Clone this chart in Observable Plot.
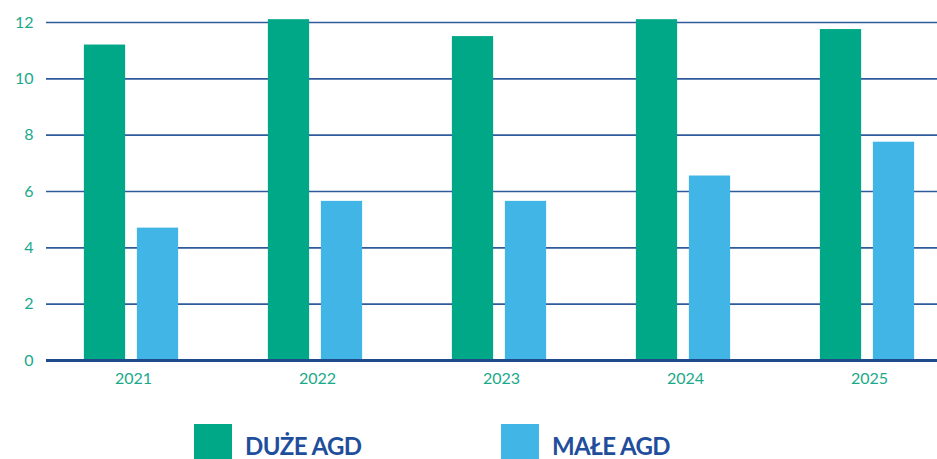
<!DOCTYPE html>
<html>
<head>
<meta charset="utf-8">
<script src="https://cdn.jsdelivr.net/npm/d3@7"></script>
<script src="https://cdn.jsdelivr.net/npm/@observablehq/plot@0.6"></script>
<style>
  html, body { margin: 0; padding: 0; background: #fff; overflow: hidden; }
  #wrap { position: relative; width: 937px; height: 459px; font-family: Lato, sans-serif; }
  .sw { position: absolute; top: 424px; width: 38px; height: 38px; }
  .lt { position: absolute; top: 434px; font-size: 24px; line-height: 24px; font-weight: 700; color: #1f4e9c; letter-spacing: -0.6px; white-space: nowrap; }
</style>
</head>
<body>
<div id="wrap"><div id="chart"></div><div id="legend"></div></div>
<script>
const years = ["2021", "2022", "2023", "2024", "2025"];
const duzeAGD = [11.2, 12.1, 11.5, 12.1, 11.75];
const maleAGD = [4.7, 5.65, 5.65, 6.55, 7.75];
const seriesNames = ["DUŻE AGD", "MAŁE AGD"];
const seriesColors = ["#00a887", "#41b6e6"];
const yTicks = [0, 2, 4, 6, 8, 10, 12];

const data = [];
years.forEach((y, i) => {
  data.push({year: y, series: seriesNames[0], value: duzeAGD[i]});
  data.push({year: y, series: seriesNames[1], value: maleAGD[i]});
});

const step = 184.75;
const center0 = 129.5;
const x0 = center0 - step / 2;
const barW = 42, gap = 11;
const innerIn = step / 2 - (barW + gap / 2) + 0;
const outerIn = step / 2 + gap / 2;

const chart = Plot.plot({
  width: 937,
  height: 410,
  marginLeft: 46,
  marginRight: 0,
  marginTop: 22,
  marginBottom: 50,
  style: {fontFamily: "Lato, sans-serif", fontSize: "16px", background: "#fff"},
  x: {domain: years, range: [x0, x0 + step * years.length], padding: 0, label: null},
  y: {domain: [0, 12], ticks: yTicks, label: null},
  marks: [
    Plot.ruleY(yTicks.filter(d => d > 0), {stroke: "#2f5a9b", strokeWidth: 1.6}),
    Plot.barY(data.filter(d => d.series === seriesNames[0]), {
      x: "year", y: "value", fill: seriesColors[0],
      insetLeft: innerIn, insetRight: outerIn
    }),
    Plot.barY(data.filter(d => d.series === seriesNames[1]), {
      x: "year", y: "value", fill: seriesColors[1],
      insetLeft: outerIn, insetRight: innerIn
    }),
    Plot.ruleY([0], {stroke: "#1f4a8c", strokeWidth: 3}),
    Plot.axisY({ticks: yTicks, tickSize: 0, tickPadding: 13, fill: "#1aa98b", fontSize: 16}),
    Plot.axisX({tickSize: 0, tickPadding: 12, dx: 2, fill: "#1aa98b", fontSize: 16})
  ]
});
document.getElementById("chart").appendChild(chart);

const legend = document.getElementById("legend");
const swLeft = [194, 501];
const txtLeft = [245, 552];
seriesNames.forEach((name, i) => {
  const sw = document.createElement("div");
  sw.className = "sw";
  sw.style.left = swLeft[i] + "px";
  sw.style.background = seriesColors[i];
  legend.appendChild(sw);
  const t = document.createElement("div");
  t.className = "lt";
  t.style.left = txtLeft[i] + "px";
  t.textContent = name;
  legend.appendChild(t);
});
</script>
</body>
</html>
